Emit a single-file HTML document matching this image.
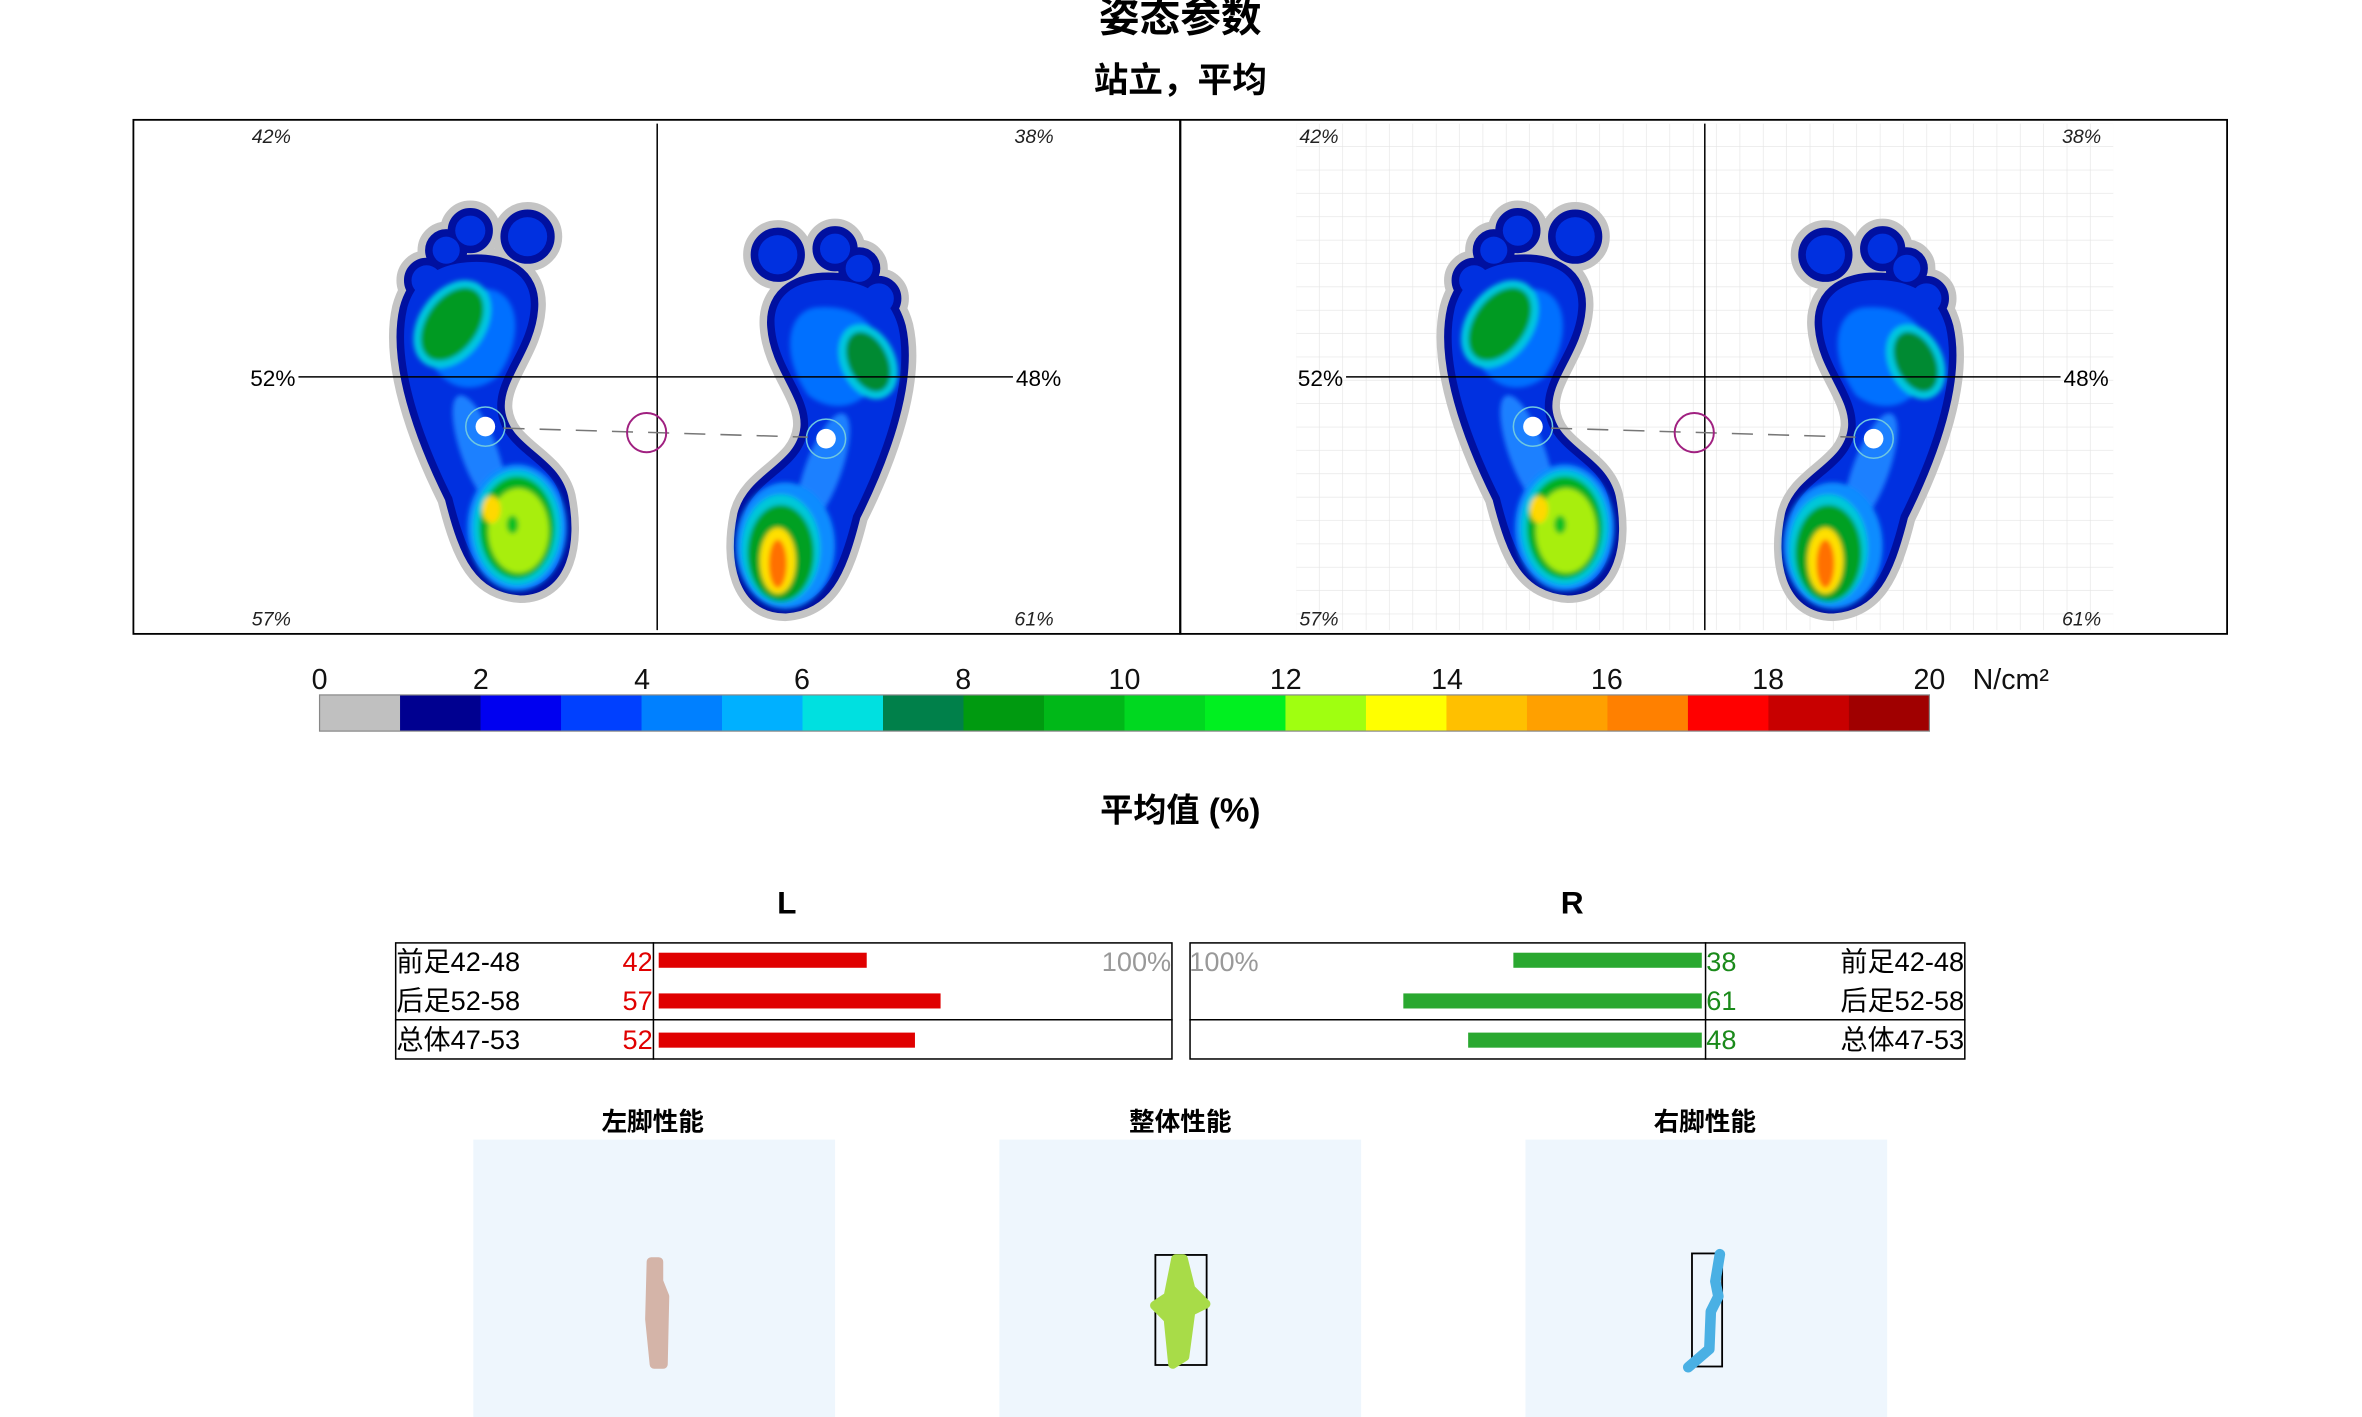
<!DOCTYPE html>
<html><head><meta charset="utf-8"><style>
html,body{margin:0;padding:0;background:#fff;}
svg{display:block;}
text{font-family:"Liberation Sans","Noto Sans CJK SC",sans-serif;}
</style></head><body>
<svg width="2362" height="1417" viewBox="0 0 1567 940" preserveAspectRatio="none" xmlns="http://www.w3.org/2000/svg">
<defs>
<pattern id="grid" width="15.5" height="15.5" patternUnits="userSpaceOnUse" x="860" y="82">
<path d="M15.5 0V15.5H0" fill="none" stroke="#e4e4e4" stroke-width="0.8"/>
</pattern>
<filter id="bl" x="-20%" y="-20%" width="140%" height="140%"><feGaussianBlur stdDeviation="1.5"/></filter>
<g id="fs">
<path d="M270,205 C262,240 280,290 300,330 C310,370 320,388 345,390 C372,390 378,360 372,330 C366,305 333,300 330,272 C328,250 350,232 352,205 C354,182 335,172 310,174 C285,176 274,190 270,205 Z"/>
<circle cx="283" cy="186" r="10"/><circle cx="296" cy="166" r="9"/><circle cx="312" cy="153" r="10"/><circle cx="350" cy="157" r="13"/>
</g>
<g id="foot">
<use href="#fs" fill="#c4c4c4" stroke="#c4c4c4" stroke-width="20" stroke-linejoin="round"/>
<use href="#fs" fill="#0010a0" stroke="#0010a0" stroke-width="10" stroke-linejoin="round"/>
<use href="#fs" fill="#0030e0" stroke="#0030e0" stroke-width="0"/>
<g filter="url(#bl)">
<path d="M280,225 C282,200 300,190 325,192 C345,195 348,225 330,250 C315,262 290,262 280,225Z" fill="#0070ff"/>
<ellipse cx="318" cy="300" rx="12" ry="40" transform="rotate(-20 318 300)" fill="#1a80ff"/>
<ellipse cx="343" cy="350" rx="33" ry="42" fill="#0a8cff"/>
<ellipse cx="300" cy="215" rx="22" ry="32" transform="rotate(35 300 215)" fill="#00c8e0"/>
<ellipse cx="300" cy="215" rx="17" ry="27" transform="rotate(35 300 215)" fill="#009a20"/>
<ellipse cx="343" cy="350" rx="29" ry="38" fill="#00c8d8"/>
<ellipse cx="343" cy="350" rx="25" ry="34" fill="#00b020"/>
<ellipse cx="344" cy="352" rx="20" ry="28" fill="#a8ee10"/>
<ellipse cx="326" cy="338" rx="6" ry="9" fill="#ffd800"/>
<ellipse cx="340" cy="348" rx="4" ry="6" fill="#10c020"/>
</g>
</g>
<g id="footR">
<use href="#fs" fill="#c4c4c4" stroke="#c4c4c4" stroke-width="20" stroke-linejoin="round"/>
<use href="#fs" fill="#0010a0" stroke="#0010a0" stroke-width="10" stroke-linejoin="round"/>
<use href="#fs" fill="#0030e0"/>
<g filter="url(#bl)">
<path d="M280,230 C282,200 300,190 325,192 C345,195 348,225 330,250 C315,262 290,262 280,230Z" fill="#0070ff"/>
<ellipse cx="320" cy="300" rx="12" ry="40" transform="rotate(-20 320 300)" fill="#1a80ff"/>
<ellipse cx="345" cy="350" rx="33" ry="42" fill="#0a8cff"/>
<ellipse cx="290" cy="228" rx="18" ry="26" transform="rotate(25 290 228)" fill="#00c8e0"/>
<ellipse cx="290" cy="228" rx="13" ry="21" transform="rotate(25 290 228)" fill="#008a30"/>
<ellipse cx="348" cy="352" rx="26" ry="36" fill="#00c8d8"/>
<ellipse cx="348" cy="355" rx="22" ry="32" fill="#00a020"/>
<ellipse cx="350" cy="360" rx="12" ry="22" fill="#ffe000"/>
<ellipse cx="350" cy="362" rx="6" ry="16" fill="#ff7000"/>
</g>
</g>
</defs>
<text x="783" y="21" text-anchor="middle" font-size="27" font-weight="bold">姿态参数</text>
<text x="783" y="61" text-anchor="middle" font-size="23" font-weight="bold">站立，平均</text>
<rect x="88.5" y="79.5" width="1389" height="341" fill="none" stroke="#000" stroke-width="1.2"/>
<line x1="783" y1="79" x2="783" y2="421" stroke="#000" stroke-width="1.5"/>
<rect x="860" y="82" width="542" height="336" fill="url(#grid)"/>
<use href="#foot"/>
<use href="#footR" transform="translate(866,12) scale(-1,1)"/>
<use href="#foot" transform="translate(695,0)"/>
<use href="#footR" transform="translate(1561,12) scale(-1,1)"/>
<g id="ax">
<line x1="436" y1="82" x2="436" y2="418" stroke="#000" stroke-width="1"/>
<line x1="198" y1="250" x2="672" y2="250" stroke="#000" stroke-width="1"/>
<g font-size="13" font-style="italic" fill="#222">
<text x="167" y="95">42%</text><text x="673" y="95">38%</text>
<text x="167" y="415">57%</text><text x="673" y="415">61%</text>
</g>
<g font-size="15"><text x="166" y="256">52%</text><text x="674" y="256">48%</text></g>
<circle cx="322" cy="283" r="13" fill="none" stroke="#70c8e0" stroke-width="1"/>
<circle cx="322" cy="283" r="6.5" fill="#fff"/>
<circle cx="548" cy="291" r="13" fill="none" stroke="#70c8e0" stroke-width="1"/>
<circle cx="548" cy="291" r="6.5" fill="#fff"/>
<line x1="334" y1="284" x2="536" y2="290" stroke="#777" stroke-width="1" stroke-dasharray="14,10"/>
<circle cx="429" cy="287" r="13" fill="none" stroke="#a02080" stroke-width="1.3"/>
</g>
<use href="#ax" transform="translate(695,0)"/>
<g stroke="none">
<rect x="212" y="461" width="54" height="24" fill="#c0c0c0"/>
<rect x="265.4" y="461" width="54" height="24" fill="#000090"/>
<rect x="318.8" y="461" width="54" height="24" fill="#0000f0"/>
<rect x="372.2" y="461" width="54" height="24" fill="#0040ff"/>
<rect x="425.6" y="461" width="54" height="24" fill="#0080ff"/>
<rect x="479" y="461" width="54" height="24" fill="#00b0ff"/>
<rect x="532.4" y="461" width="54" height="24" fill="#00e0e0"/>
<rect x="585.8" y="461" width="54" height="24" fill="#00804a"/>
<rect x="639.2" y="461" width="54" height="24" fill="#009a10"/>
<rect x="692.6" y="461" width="54" height="24" fill="#00b818"/>
<rect x="746" y="461" width="54" height="24" fill="#00d820"/>
<rect x="799.4" y="461" width="54" height="24" fill="#00f020"/>
<rect x="852.8" y="461" width="54" height="24" fill="#a0ff10"/>
<rect x="906.2" y="461" width="54" height="24" fill="#ffff00"/>
<rect x="959.6" y="461" width="54" height="24" fill="#ffc000"/>
<rect x="1013" y="461" width="54" height="24" fill="#ffa000"/>
<rect x="1066.4" y="461" width="54" height="24" fill="#ff8000"/>
<rect x="1119.8" y="461" width="54" height="24" fill="#ff0000"/>
<rect x="1173.2" y="461" width="54" height="24" fill="#c80000"/>
<rect x="1226.6" y="461" width="53.4" height="24" fill="#a00000"/>
</g>
<rect x="212" y="461" width="1068" height="24" fill="none" stroke="#888" stroke-width="0.8"/>
<g font-size="19" text-anchor="middle" fill="#111">
<text x="212" y="457">0</text><text x="319" y="457">2</text><text x="426" y="457">4</text><text x="532" y="457">6</text><text x="639" y="457">8</text><text x="746" y="457">10</text><text x="853" y="457">12</text><text x="960" y="457">14</text><text x="1066" y="457">16</text><text x="1173" y="457">18</text><text x="1280" y="457">20</text>
<text x="1334" y="457">N/cm²</text>
</g>
<text x="783" y="545" text-anchor="middle" font-size="22" font-weight="bold">平均值 (%)</text>
<text x="522" y="606" text-anchor="middle" font-size="21" font-weight="bold">L</text>
<text x="1043" y="606" text-anchor="middle" font-size="21" font-weight="bold">R</text>
<g fill="none" stroke="#000" stroke-width="1">
<rect x="262.5" y="625.5" width="515" height="77"/>
<line x1="262" y1="676.5" x2="778" y2="676.5"/>
<line x1="433.5" y1="625" x2="433.5" y2="703"/>
<rect x="789.5" y="625.5" width="514" height="77"/>
<line x1="789" y1="676.5" x2="1304" y2="676.5"/>
<line x1="1131.5" y1="625" x2="1131.5" y2="703"/>
</g>
<g fill="#e00000"><rect x="437" y="632" width="138" height="10"/><rect x="437" y="659" width="187" height="10"/><rect x="437" y="685" width="170" height="10"/></g>
<g fill="#2aa830"><rect x="1004" y="632" width="125" height="10"/><rect x="931" y="659" width="198" height="10"/><rect x="974" y="685" width="155" height="10"/></g>
<g font-size="18">
<text x="263" y="644">前足42-48</text><text x="263" y="670">后足52-58</text><text x="263" y="696">总体47-53</text>
<g fill="#e00000" text-anchor="end"><text x="433" y="644">42</text><text x="433" y="670">57</text><text x="433" y="696">52</text></g>
<text x="777" y="644" text-anchor="end" fill="#999">100%</text>
<text x="789" y="644" fill="#999">100%</text>
<g fill="#1a8a1a"><text x="1132" y="644">38</text><text x="1132" y="670">61</text><text x="1132" y="696">48</text></g>
<g text-anchor="end"><text x="1303" y="644">前足42-48</text><text x="1303" y="670">后足52-58</text><text x="1303" y="696">总体47-53</text></g>
</g>
<g font-size="17" font-weight="bold" text-anchor="middle">
<text x="433" y="750">左脚性能</text><text x="783" y="750">整体性能</text><text x="1131" y="750">右脚性能</text>
</g>
<g fill="#eef6fd"><rect x="314" y="756" width="240" height="184"/><rect x="663" y="756" width="240" height="184"/><rect x="1012" y="756" width="240" height="184"/></g>
<line x1="436" y1="835" x2="436" y2="905" stroke="#000" stroke-width="1.2" stroke-dasharray="3,2"/>
<path d="M432,837 L431,875 L434,905 L440,905 L441,860 L437,850 L437,837Z" fill="#d4b4a8" stroke="#d4b4a8" stroke-width="6" stroke-linejoin="round"/>
<rect x="766.5" y="832.5" width="34" height="73" fill="none" stroke="#000" stroke-width="1.2"/>
<path d="M780,835 L775,860 L766,866 L775,875 L778,905 L786,900 L790,870 L800,865 L790,855 L785,835Z" fill="#a8dc48" stroke="#a8dc48" stroke-width="6" stroke-linejoin="round"/>
<rect x="1122.5" y="831.5" width="20" height="75" fill="none" stroke="#000" stroke-width="1.2"/>
<path d="M1141,832 L1138,850 L1140,860 L1135,870 L1134,895 L1120,907" fill="none" stroke="#4ab0e4" stroke-width="7" stroke-linecap="round" stroke-linejoin="round"/>
</svg>
</body></html>
